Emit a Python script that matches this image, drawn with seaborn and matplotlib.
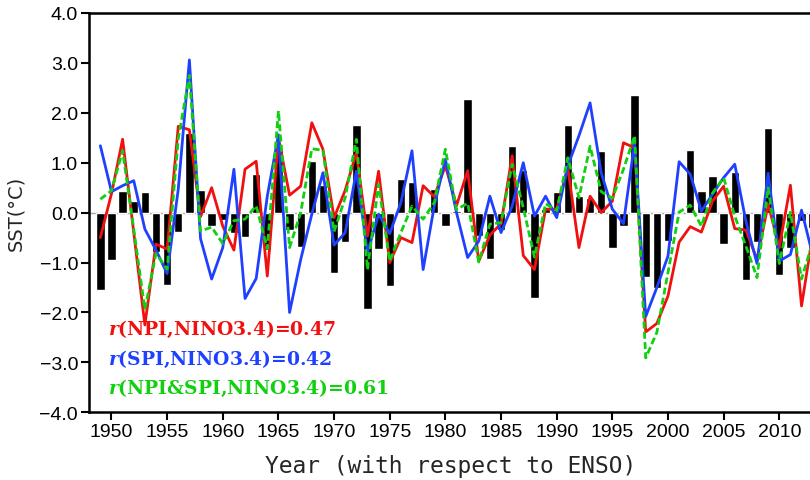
import matplotlib
matplotlib.use("Agg")
import matplotlib.pyplot as plt
import seaborn as sns
import pandas as pd

years = list(range(1949, 2014))
nino34 = [-1.55, -0.95, 0.43, 0.23, 0.41, -0.78, -1.44, -0.39, 1.60, 0.45,
          -0.27, -0.15, -0.40, -0.49, 0.78, -0.74, 1.30, -0.35, -0.68, 1.04,
          0.55, -1.20, -0.59, 1.75, -1.94, -0.72, -1.46, 0.67, 0.61, 0.00,
          0.47, -0.27, 0.03, 2.27, -0.47, -0.92, -0.35, 1.34, 0.86, -1.70,
          0.07, 0.41, 1.75, 0.33, 0.30, 1.24, -0.70, -0.27, 2.35, -1.28,
          -1.50, -0.57, 0.00, 1.26, 0.44, 0.74, -0.63, 0.82, -1.34, -0.59,
          1.70, -1.25, -0.70, -0.17, -0.30]
npi = [-0.50, 0.38, 1.47, -0.40, -2.25, -0.63, -0.73, 1.73, 1.66, -0.08,
       0.50, -0.27, -0.75, 0.87, 1.03, -1.27, 1.50, 0.35, 0.53, 1.80,
       1.27, -0.10, 0.45, 1.20, -0.47, 0.83, -1.00, -0.50, -0.60, 0.54,
       0.32, 0.94, 0.14, 0.84, -0.97, -0.45, -0.22, 1.14, -0.86, -1.14,
       0.07, 0.07, 0.90, -0.70, 0.33, 0.00, 0.23, 1.40, 1.30, -2.39,
       -2.22, -1.67, -0.59, -0.28, -0.39, 0.23, 0.53, -0.32, -0.35, -0.94,
       0.17, -0.70, 0.55, -1.87, -0.45]
spi = [1.34, 0.42, 0.54, 0.64, -0.33, -0.75, -1.22, 0.47, 3.06, -0.52,
       -1.33, -0.70, 0.87, -1.72, -1.32, 0.33, 1.56, -2.00, -0.94, -0.03,
       0.80, -0.65, -0.40, 0.83, -0.80, -0.03, -0.42, 0.20, 1.24, -1.14,
       0.13, 1.07, 0.00, -0.90, -0.57, 0.33, -0.40, 0.13, 1.00, -0.07,
       0.33, -0.10, 0.94, 1.54, 2.20, 0.80, 0.07, -0.22, 1.40, -2.08,
       -1.50, -0.87, 1.02, 0.77, 0.03, 0.37, 0.70, 0.97, -0.17, -1.02,
       0.79, -0.97, -0.84, 0.05, -0.85]
npi_spi = [0.27, 0.44, 1.24, -0.33, -1.94, -0.82, -1.13, 1.48, 2.75, -0.37,
           -0.29, -0.62, -0.16, -0.13, 0.14, -0.72, 2.04, -0.70, 0.00, 1.28,
           1.25, -0.38, 0.30, 1.47, -1.14, 0.57, -0.97, -0.40, 0.13, -0.13,
           0.20, 1.27, 0.06, 0.19, -0.99, -0.23, -0.20, 0.97, 0.10, -0.89,
           0.18, 0.04, 1.10, 0.30, 1.33, 0.42, 0.29, 0.87, 1.54, -2.91,
           -2.40, -1.20, 0.01, 0.15, -0.27, 0.39, 0.70, -0.07, -0.67, -1.30,
           0.50, -1.02, 0.01, -1.33, -0.59]

corr_texts = ["(NPI,NINO3.4)=0.47", "(SPI,NINO3.4)=0.42", "(NPI&SPI,NINO3.4)=0.61"]
legend_names = ["NINO3.4", "NPI", "SPI", "NPI&SPI"]
yticks = [-4, -3, -2, -1, 0, 1, 2, 3, 4]
xticks = list(range(1950, 2015, 5))

RED = "#f01010"
BLUE = "#2040ff"
GREEN = "#10d010"

sns.set_style("ticks")
plt.rcParams["font.family"] = ["Liberation Sans", "DejaVu Sans"]
plt.rcParams["mathtext.fontset"] = "dejavuserif"

W, H = 810, 481
fig = plt.figure(figsize=(W / 100, H / 100), dpi=100)
ppy = 11.13
x0, x1 = 1948.0, 2015.0
left_px = 90 - 0.07 * ppy
ax = fig.add_axes([left_px / W, 1 - 413.3 / H, (x1 - x0) * ppy / W, 399.3 / H])

df = pd.DataFrame({"year": years, "NINO3.4": nino34, "NPI": npi,
                   "SPI": spi, "NPI&SPI": npi_spi})

ax.axhline(0, color="#a8a8a8", lw=1.0, zorder=0.5)
sns.barplot(data=df, x="year", y="NINO3.4", native_scale=True, color="black",
            saturation=1, width=0.75, errorbar=None, ax=ax, zorder=2)
sns.lineplot(data=df, x="year", y="NPI", color=RED, lw=2.0, ax=ax, zorder=3)
sns.lineplot(data=df, x="year", y="SPI", color=BLUE, lw=2.0, ax=ax, zorder=4)
sns.lineplot(data=df, x="year", y="NPI&SPI", color=GREEN, lw=2.0,
             linestyle=(0, (2.5, 1.2)), ax=ax, zorder=5)

ax.set_xlim(x0, x1)
ax.set_ylim(-4, 4)
ax.set_yticks(yticks)
ax.set_yticklabels([f"{v:.1f}".replace("-", "\u2212") for v in yticks])
ax.set_xticks(xticks)
ax.set_xticklabels([str(v) for v in xticks])
ax.tick_params(axis="both", direction="out", length=6, width=1.5,
               labelsize=14, colors="black", pad=2)
for s in ["left", "bottom", "top"]:
    ax.spines[s].set_visible(True)
    ax.spines[s].set_linewidth(1.8)
    ax.spines[s].set_color("black")
ax.spines["right"].set_visible(False)
ax.set_xlabel("")
ax.set_ylabel("")

fig.text(16 / W, 1 - 213 / H, "SST(\u00b0C)", rotation=90, ha="center",
         va="center", fontsize=14, family=["DejaVu Sans"])
fig.text(451 / W, 1 - 467 / H, "Year (with respect to ENSO)", ha="center",
         va="center", fontsize=16.5, family=["DejaVu Sans Mono"])

cols = [RED, BLUE, GREEN]
ys = [-2.33, -2.93, -3.5]
for t, c, yv in zip(corr_texts, cols, ys):
    ax.text(1949.7, yv, r"$\mathbfit{r}$" + t, color=c, fontsize=13.5,
            fontweight="bold", family=["DejaVu Serif"],
            va="center", ha="left", zorder=6)

leg_x = [235, 411, 541, 725]
for name, xp in zip(legend_names, leg_x):
    fig.text(xp / W, 1 - 4 / H, name, ha="center", va="bottom", fontsize=14,
             color="#444444")

fig.savefig("out.png", dpi=100)
